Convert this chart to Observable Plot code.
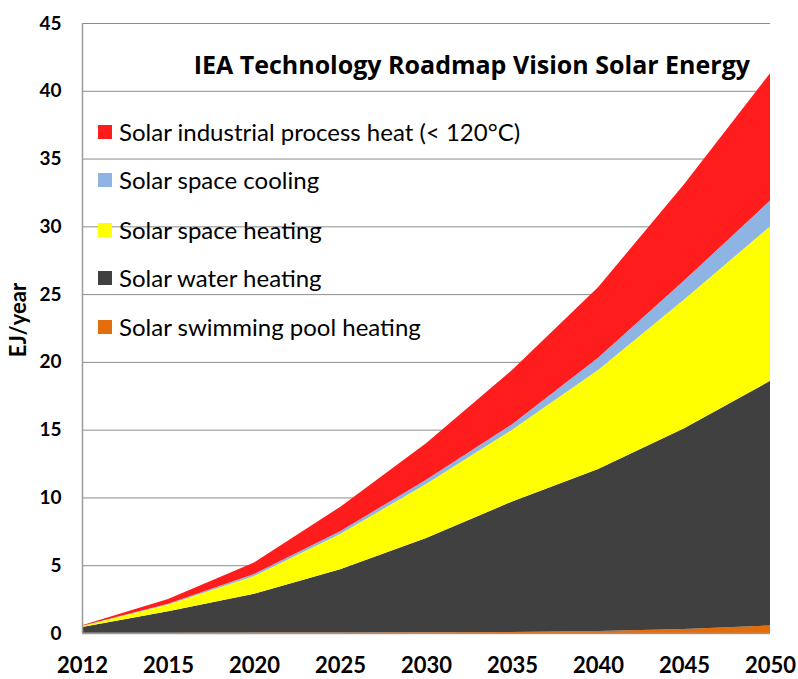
<!DOCTYPE html>
<html><head><meta charset="utf-8">
<script src="https://cdn.jsdelivr.net/npm/d3@7"></script>
<script src="https://cdn.jsdelivr.net/npm/@observablehq/plot@0.6"></script>
<style>
body{margin:0;background:#fff}
svg{font-family:Lato, "Open Sans", sans-serif}
g[aria-label="y-axis tick label"] text, g[aria-label="x-axis tick label"] text{font-weight:bold}
</style>
</head><body><div id="chart"></div>
<script>
const years = ["2012","2015","2020","2025","2030","2035","2040","2045","2050"];
const seriesNames = [
  "Solar swimming pool heating",
  "Solar water heating",
  "Solar space heating",
  "Solar space cooling",
  "Solar industrial process heat (< 120°C)"
];
const poolHeating       = [0.02, 0.02, 0.03, 0.04, 0.05, 0.08, 0.15, 0.30, 0.55];
const waterHeating      = [0.43, 1.58, 2.87, 4.66, 6.95, 9.62, 11.95, 14.8, 18.05];
const spaceHeating      = [0.07, 0.50, 1.30, 2.60, 4.00, 5.30, 7.30, 9.50, 11.40];
const spaceCooling      = [0.01, 0.05, 0.15, 0.20, 0.30, 0.40, 0.90, 1.40, 1.90];
const industrialHeat    = [0.05, 0.35, 0.85, 1.80, 2.70, 4.00, 5.20, 7.10, 9.40];
const seriesValues = [poolHeating, waterHeating, spaceHeating, spaceCooling, industrialHeat];
const colors = ["#E46C0A", "#404040", "#FFFF00", "#8DB4E2", "#FF1C1C"];
const yTicks = [0, 5, 10, 15, 20, 25, 30, 35, 40, 45];
const titleText = "IEA Technology Roadmap Vision Solar Energy";
const yLabel = "EJ/year";

const data = [];
seriesValues.forEach((vals, i) => vals.forEach((v, j) => data.push({year: years[j], series: seriesNames[i], value: v})));

const chart = Plot.plot({
  width: 798, height: 679,
  marginLeft: 82, marginRight: 28, marginTop: 23, marginBottom: 46,
  style: {fontFamily: "Lato, 'Open Sans', sans-serif", background: "#fff", color: "#000"},
  x: {type: "point", domain: years, padding: 0, label: null},
  y: {domain: [0, 45], ticks: yTicks, label: null},
  color: {domain: seriesNames, range: colors},
  marks: [
    Plot.ruleY(yTicks.filter(d => d > 0), {stroke: "#8c8c8c", strokeWidth: 1}),
    Plot.areaY(data, {x: "year", y: "value", fill: "series", order: seriesNames, curve: "linear"}),
    Plot.ruleY([0], {stroke: "#9a9a9a", strokeWidth: 1.5}),
    Plot.ruleX([years[0]], {y1: 0, y2: 45, stroke: "#9a9a9a", strokeWidth: 1.5}),
    Plot.axisY({ticks: yTicks, tickSize: 0, tickPadding: 21, fontSize: 19, label: null}),
    Plot.axisX({tickSize: 0, tickPadding: 24, fontSize: 22, label: null})
  ]
});
document.getElementById("chart").appendChild(chart);

const svg = d3.select(chart);
svg.append("text")
  .attr("x", 750).attr("y", 74)
  .attr("text-anchor", "end")
  .attr("font-family", "'Open Sans', Lato, sans-serif")
  .attr("font-size", 25).attr("font-weight", "bold")
  .attr("fill", "#000")
  .text(titleText);

svg.append("text")
  .attr("transform", "translate(26,320) rotate(-90)")
  .attr("text-anchor", "middle")
  .attr("font-size", 22).attr("font-weight", "bold")
  .attr("fill", "#000")
  .text(yLabel);

const legendRows = [132, 180, 230, 278, 327];
const legendOrder = seriesNames.map((n, i) => ({name: n, color: colors[i]})).reverse();
const lg = svg.append("g");
legendOrder.forEach((d, i) => {
  lg.append("rect").attr("x", 98).attr("y", legendRows[i] - 7).attr("width", 14).attr("height", 14).attr("fill", d.color);
  lg.append("text").attr("x", 119).attr("y", legendRows[i]).attr("dy", "0.36em")
    .attr("text-anchor", "start")
    .attr("font-size", 24).attr("fill", "#000").text(d.name);
});
</script>
</body></html>
